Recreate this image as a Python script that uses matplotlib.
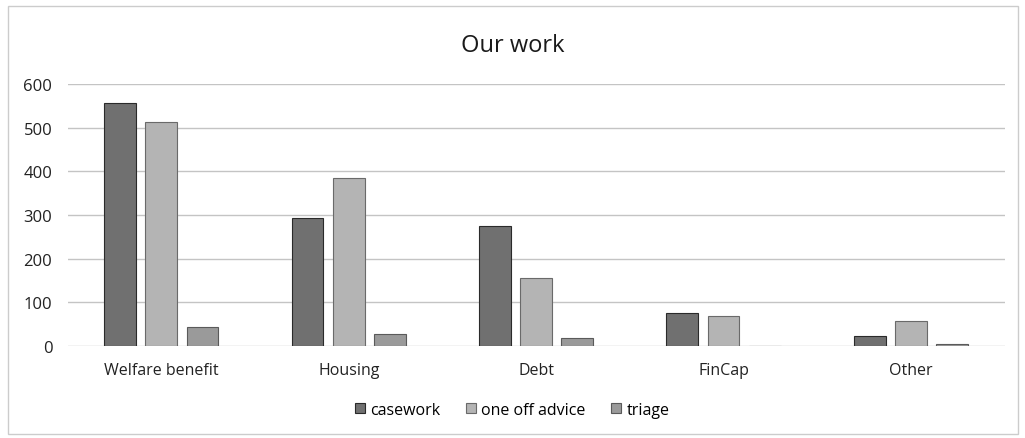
import numpy as np
import matplotlib
matplotlib.use('Agg')
import matplotlib.pyplot as plt
from matplotlib.patches import Rectangle

# Data
categories = ['Welfare benefit', 'Housing', 'Debt', 'FinCap', 'Other']
casework = [556, 292, 274, 75, 22]
one_off_advice = [513, 385, 155, 69, 57]
triage = [44, 27, 17, 0, 5]
series_names = ['casework', 'one off advice', 'triage']
colors = ['#707070', '#b4b4b4', '#9a9a9a']
edges = ['#2a2a2a', '#6a6a6a', '#5a5a5a']

plt.rcParams['font.family'] = ['Open Sans', 'DejaVu Sans']

fig = plt.figure(figsize=(10.25, 4.39), dpi=100)
ax = fig.add_axes([0.066, 0.21, 0.914, 0.596])

x = np.arange(len(categories))
width = 0.17
offsets = [-0.22, 0, 0.22]
for vals, name, c, ec, off in zip([casework, one_off_advice, triage],
                                  series_names, colors, edges, offsets):
    ax.bar(x + off, vals, width, color=c, edgecolor=ec, linewidth=0.8,
           label=name, zorder=3)

ax.set_xlim(-0.5, len(categories) - 0.5)
ax.set_ylim(0, 600)
ax.set_yticks(range(0, 601, 100))
ax.set_xticks(x)
ax.set_xticklabels(categories, fontsize=11.5, color='#222222')
ax.tick_params(axis='y', labelsize=12, labelcolor='#222222', length=0, pad=11)
ax.tick_params(axis='x', length=0, pad=12)
ax.grid(axis='y', color='#c4c4c4', linewidth=1, zorder=0)
for s in ax.spines.values():
    s.set_visible(False)

fig.text(0.5, 0.895, 'Our work', ha='center', va='center', fontsize=17,
         color='#1a1a1a')

leg = fig.legend(loc='center', bbox_to_anchor=(0.5, 0.064), ncol=3,
                 frameon=False, fontsize=11.5, handlelength=0.6,
                 handleheight=0.6, handletextpad=0.35, columnspacing=1.6)

# light border around the chart area
fig.patches.append(Rectangle((0.008, 0.01), 0.985, 0.975,
                             transform=fig.transFigure, fill=False,
                             edgecolor='#cccccc', linewidth=1))

fig.savefig('out.png', dpi=100)
